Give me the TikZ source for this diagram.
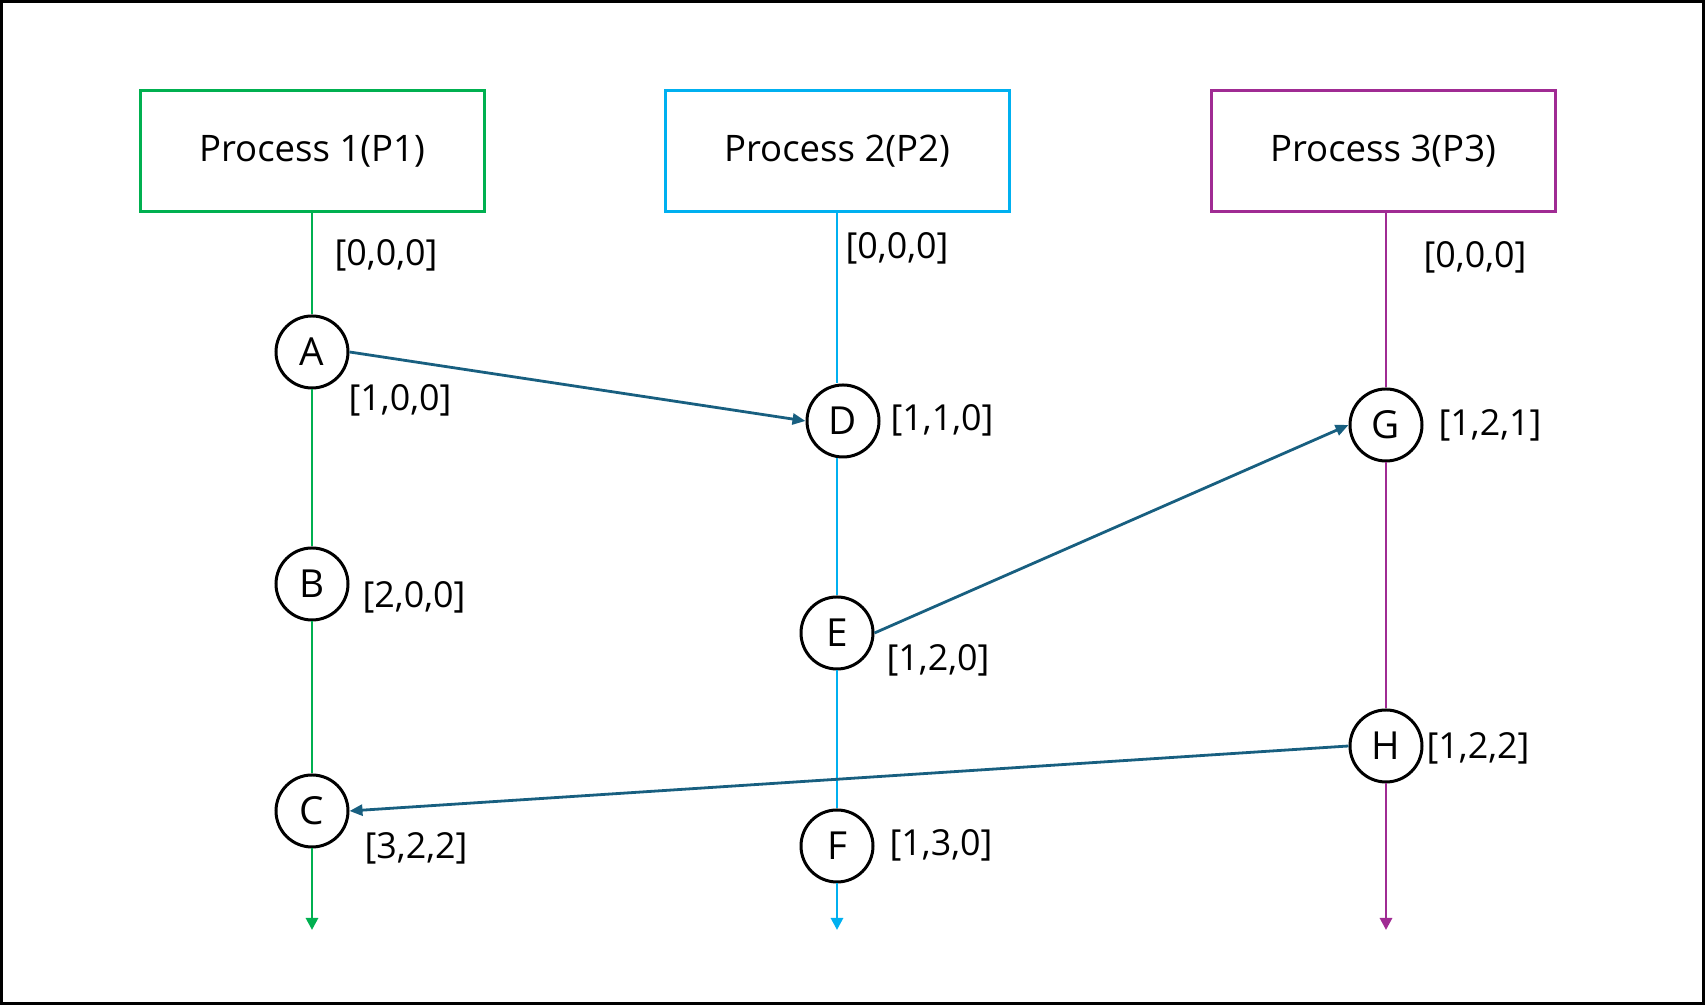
\documentclass[tikz,border=0pt]{standalone}
\usepackage{fontspec}
\setmainfont{Open Sans}
\usepackage{tikz}
\usetikzlibrary{arrows.meta,positioning}
\definecolor{pgreen}{HTML}{00B050}
\definecolor{pcyan}{HTML}{00B0F0}
\definecolor{ppurple}{HTML}{A02B93}
\definecolor{msgblue}{HTML}{185F80}
\definecolor{ink}{HTML}{000000}
\tikzset{
  procbox/.style={draw=#1,line width=0.03cm,minimum width=3.44cm,minimum height=1.21cm,inner sep=0pt,text=ink,font=\fontsize{10.4}{12}\selectfont},
  evt/.style={circle,draw=ink,line width=0.03cm,fill=white,minimum size=0.72cm,inner sep=0pt,text=ink,font=\fontsize{11}{12}\selectfont},
  vlbl/.style={inner sep=0pt,text=ink,font=\fontsize{10.2}{12}\selectfont},
  tline/.style={draw=#1,line width=0.028cm},
  tend/.style={tline=#1,-{Triangle[length=0.12cm,width=0.12cm]}},
  msg/.style={draw=msgblue,line width=0.028cm,-{Triangle[length=0.13cm,width=0.11cm]}},
}

\begin{document}
\begin{tikzpicture}[x=1cm,y=1cm]
    \useasboundingbox (0,0) rectangle (17.05,10.05);
    \draw[ink,line width=0.03cm] (0.015,0.015) rectangle (17.035,10.035);

    % processes
    \node[procbox=pgreen] (p1) at (3.12,8.54) {Process 1(P1)};
    \node[procbox=pcyan] (p2) at (8.37,8.54) {Process 2(P2)};
    \node[procbox=ppurple] (p3) at (13.83,8.54) {Process 3(P3)};
    \coordinate (p1end) at (3.12,0.75);
    \coordinate (p2end) at (8.37,0.75);
    \coordinate (p3end) at (13.86,0.75);

    % events
    \node[evt] (a) at (3.12,6.53) {A};
    \node[evt] (b) at (3.12,4.21) {B};
    \node[evt] (c) at (3.12,1.94) {C};
    \node[evt] (d) at (8.43,5.84) {D};
    \node[evt] (e) at (8.37,3.72) {E};
    \node[evt] (f) at (8.37,1.59) {F};
    \node[evt] (g) at (13.86,5.80) {G};
    \node[evt] (h) at (13.86,2.59) {H};

    % time lines
    \draw[tline=pgreen] (p1) -- (a);
    \draw[tline=pgreen] (a) -- (b);
    \draw[tline=pgreen] (b) -- (c);
    \draw[tend=pgreen] (c) -- (p1end);
    \draw[tline=pcyan] (p2) -- (p2|-d.north);
    \draw[tline=pcyan] (p2|-d.south) -- (e);
    \draw[tline=pcyan] (e) -- (f);
    \draw[tend=pcyan] (f) -- (p2end);
    \draw[tline=ppurple] (p3.south-|g) -- (g);
    \draw[tline=ppurple] (g) -- (h);
    \draw[tend=ppurple] (h) -- (p3end);

    % messages
    \draw[msg] (a.east) -- (d.west);
    \draw[msg] (e.east) -- (g.west);
    \draw[msg] (h.west) -- (c.east);

    % vector clocks
    \node[vlbl] (va0) at (3.86,7.50) {[0,0,0]};
    \node[vlbl] (va) at (4.00,6.05) {[1,0,0]};
    \node[vlbl] (vb) at (4.14,4.08) {[2,0,0]};
    \node[vlbl] (vc) at (4.16,1.57) {[3,2,2]};
    \node[vlbl] (vd0) at (8.97,7.57) {[0,0,0]};
    \node[vlbl] (vd) at (9.42,5.85) {[1,1,0]};
    \node[vlbl] (ve) at (9.38,3.45) {[1,2,0]};
    \node[vlbl] (vf) at (9.41,1.60) {[1,3,0]};
    \node[vlbl] (vg0) at (14.75,7.48) {[0,0,0]};
    \node[vlbl] (vg) at (14.90,5.80) {[1,2,1]};
    \node[vlbl] (vh) at (14.78,2.57) {[1,2,2]};
  \end{tikzpicture}
\end{document}
